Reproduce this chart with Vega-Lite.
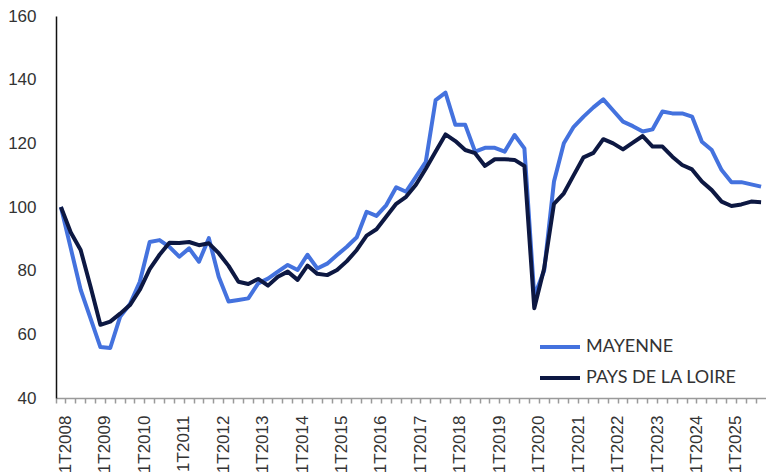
{
  "$schema": "https://vega.github.io/schema/vega-lite/v6.json",
  "autosize": "none",
  "width": 710,
  "height": 382,
  "padding": {"left": 56, "top": 16, "right": 0, "bottom": 78},
  "background": "white",
  "config": {"view": {"stroke": null}},
  "data": {"values": [
    {"t":"1T2008","MAYENNE":100,"PAYS DE LA LOIRE":100},
    {"t":"2T2008","MAYENNE":87,"PAYS DE LA LOIRE":92},
    {"t":"3T2008","MAYENNE":74,"PAYS DE LA LOIRE":86.5},
    {"t":"4T2008","MAYENNE":65,"PAYS DE LA LOIRE":75},
    {"t":"1T2009","MAYENNE":56,"PAYS DE LA LOIRE":63},
    {"t":"2T2009","MAYENNE":55.7,"PAYS DE LA LOIRE":64},
    {"t":"3T2009","MAYENNE":65.5,"PAYS DE LA LOIRE":66.5},
    {"t":"4T2009","MAYENNE":69.5,"PAYS DE LA LOIRE":69.2},
    {"t":"1T2010","MAYENNE":76.5,"PAYS DE LA LOIRE":74},
    {"t":"2T2010","MAYENNE":89,"PAYS DE LA LOIRE":80.5},
    {"t":"3T2010","MAYENNE":89.6,"PAYS DE LA LOIRE":85},
    {"t":"4T2010","MAYENNE":87.5,"PAYS DE LA LOIRE":88.8},
    {"t":"1T2011","MAYENNE":84.4,"PAYS DE LA LOIRE":88.7},
    {"t":"2T2011","MAYENNE":87,"PAYS DE LA LOIRE":89},
    {"t":"3T2011","MAYENNE":82.8,"PAYS DE LA LOIRE":88},
    {"t":"4T2011","MAYENNE":90.2,"PAYS DE LA LOIRE":88.6},
    {"t":"1T2012","MAYENNE":78.1,"PAYS DE LA LOIRE":85.5},
    {"t":"2T2012","MAYENNE":70.3,"PAYS DE LA LOIRE":81.5},
    {"t":"3T2012","MAYENNE":70.8,"PAYS DE LA LOIRE":76.5},
    {"t":"4T2012","MAYENNE":71.3,"PAYS DE LA LOIRE":75.8},
    {"t":"1T2013","MAYENNE":76,"PAYS DE LA LOIRE":77.4},
    {"t":"2T2013","MAYENNE":77.5,"PAYS DE LA LOIRE":75.3},
    {"t":"3T2013","MAYENNE":79.7,"PAYS DE LA LOIRE":78.1},
    {"t":"4T2013","MAYENNE":81.8,"PAYS DE LA LOIRE":79.7},
    {"t":"1T2014","MAYENNE":80.2,"PAYS DE LA LOIRE":77.1},
    {"t":"2T2014","MAYENNE":85,"PAYS DE LA LOIRE":81.6},
    {"t":"3T2014","MAYENNE":80.7,"PAYS DE LA LOIRE":79},
    {"t":"4T2014","MAYENNE":82.2,"PAYS DE LA LOIRE":78.6},
    {"t":"1T2015","MAYENNE":84.9,"PAYS DE LA LOIRE":80.2},
    {"t":"2T2015","MAYENNE":87.5,"PAYS DE LA LOIRE":83},
    {"t":"3T2015","MAYENNE":90.5,"PAYS DE LA LOIRE":86.5},
    {"t":"4T2015","MAYENNE":98.5,"PAYS DE LA LOIRE":91},
    {"t":"1T2016","MAYENNE":97.2,"PAYS DE LA LOIRE":93},
    {"t":"2T2016","MAYENNE":100.6,"PAYS DE LA LOIRE":97},
    {"t":"3T2016","MAYENNE":106.2,"PAYS DE LA LOIRE":101},
    {"t":"4T2016","MAYENNE":104.8,"PAYS DE LA LOIRE":103.2},
    {"t":"1T2017","MAYENNE":109.5,"PAYS DE LA LOIRE":107},
    {"t":"2T2017","MAYENNE":114.2,"PAYS DE LA LOIRE":112},
    {"t":"3T2017","MAYENNE":133.6,"PAYS DE LA LOIRE":117.4},
    {"t":"4T2017","MAYENNE":135.9,"PAYS DE LA LOIRE":122.8},
    {"t":"1T2018","MAYENNE":125.8,"PAYS DE LA LOIRE":120.7},
    {"t":"2T2018","MAYENNE":125.8,"PAYS DE LA LOIRE":117.9},
    {"t":"3T2018","MAYENNE":117.4,"PAYS DE LA LOIRE":116.9},
    {"t":"4T2018","MAYENNE":118.6,"PAYS DE LA LOIRE":112.9},
    {"t":"1T2019","MAYENNE":118.6,"PAYS DE LA LOIRE":115},
    {"t":"2T2019","MAYENNE":117.4,"PAYS DE LA LOIRE":115},
    {"t":"3T2019","MAYENNE":122.6,"PAYS DE LA LOIRE":114.8},
    {"t":"4T2019","MAYENNE":118.4,"PAYS DE LA LOIRE":112.9},
    {"t":"1T2020","MAYENNE":72,"PAYS DE LA LOIRE":68.2},
    {"t":"2T2020","MAYENNE":80,"PAYS DE LA LOIRE":80.7},
    {"t":"3T2020","MAYENNE":108,"PAYS DE LA LOIRE":101},
    {"t":"4T2020","MAYENNE":120,"PAYS DE LA LOIRE":104.3},
    {"t":"1T2021","MAYENNE":125.2,"PAYS DE LA LOIRE":110},
    {"t":"2T2021","MAYENNE":128.4,"PAYS DE LA LOIRE":115.6},
    {"t":"3T2021","MAYENNE":131.3,"PAYS DE LA LOIRE":117},
    {"t":"4T2021","MAYENNE":133.8,"PAYS DE LA LOIRE":121.3},
    {"t":"1T2022","MAYENNE":130.3,"PAYS DE LA LOIRE":120},
    {"t":"2T2022","MAYENNE":126.8,"PAYS DE LA LOIRE":118.1},
    {"t":"3T2022","MAYENNE":125.4,"PAYS DE LA LOIRE":120.2},
    {"t":"4T2022","MAYENNE":123.7,"PAYS DE LA LOIRE":122.3},
    {"t":"1T2023","MAYENNE":124.4,"PAYS DE LA LOIRE":119},
    {"t":"2T2023","MAYENNE":130,"PAYS DE LA LOIRE":119},
    {"t":"3T2023","MAYENNE":129.4,"PAYS DE LA LOIRE":115.8},
    {"t":"4T2023","MAYENNE":129.4,"PAYS DE LA LOIRE":113.2},
    {"t":"1T2024","MAYENNE":128.4,"PAYS DE LA LOIRE":111.8},
    {"t":"2T2024","MAYENNE":120.5,"PAYS DE LA LOIRE":108},
    {"t":"3T2024","MAYENNE":117.9,"PAYS DE LA LOIRE":105.3},
    {"t":"4T2024","MAYENNE":111.6,"PAYS DE LA LOIRE":101.7},
    {"t":"1T2025","MAYENNE":107.8,"PAYS DE LA LOIRE":100.3},
    {"t":"2T2025","MAYENNE":107.8,"PAYS DE LA LOIRE":100.8},
    {"t":"3T2025","MAYENNE":107.1,"PAYS DE LA LOIRE":101.7},
    {"t":"4T2025","MAYENNE":106.4,"PAYS DE LA LOIRE":101.5}
  ]},
  "transform": [{"fold": ["MAYENNE", "PAYS DE LA LOIRE"], "as": ["serie", "valeur"]}],
  "mark": {"type": "line", "strokeWidth": 4, "strokeJoin": "round"},
  "encoding": {
    "x": {
      "field": "t", "type": "ordinal", "sort": null,
      "scale": {"type": "band", "paddingInner": 0, "paddingOuter": 0},
      "axis": {
        "title": null, "bandPosition": 0, "labelAngle": -90, "labelOffset": 5,
        "labelExpr": "indexof(datum.value, '1T') === 0 ? datum.value : ''",
        "labelFont": "Liberation Sans", "labelFontSize": 17, "labelColor": "#333333",
        "labelPadding": 12, "tickSize": 5, "tickColor": "#9a9a9a", "domainColor": "#9a9a9a",
        "domainWidth": 1.5, "tickWidth": 1.5, "labelOverlap": false, "labelBound": false
      }
    },
    "y": {
      "field": "valeur", "type": "quantitative",
      "scale": {"domain": [40, 160], "nice": false, "zero": false},
      "axis": {
        "title": null, "values": [40, 60, 80, 100, 120, 140, 160], "grid": false, "ticks": false,
        "tickSize": 0, "labelPadding": 20, "labelFont": "Liberation Sans", "labelFontSize": 17,
        "labelColor": "#333333", "domainColor": "#111111", "domainWidth": 1.5
      }
    },
    "color": {
      "field": "serie", "type": "nominal",
      "scale": {"domain": ["MAYENNE", "PAYS DE LA LOIRE"], "range": ["#4472DE", "#0D1842"]},
      "legend": {
        "title": null, "orient": "none", "legendX": 482, "legendY": 309,
        "symbolType": "stroke", "symbolSize": 1600, "symbolStrokeWidth": 4,
        "labelFont": "Lato", "labelFontSize": 18, "labelColor": "#333333",
        "labelOffset": 4, "rowPadding": -10, "padding": 0
      }
    }
  }
}
